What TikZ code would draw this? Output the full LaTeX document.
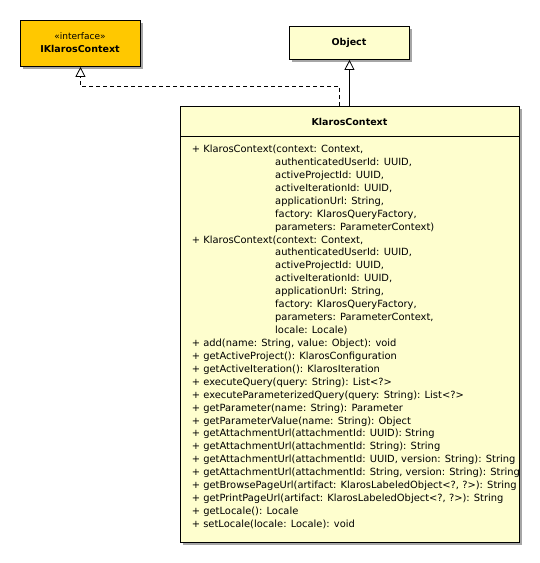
\documentclass[tikz,border=0pt]{standalone}
\usepackage{fontspec}
\setmainfont{DejaVu Sans}
\usetikzlibrary{shadows,arrows.meta}
\definecolor{classfill}{HTML}{FEFECE}
\definecolor{ifacefill}{HTML}{FFC800}
\newcommand\myind{\hspace*{83.3pt}}
\begin{document}
\begin{tikzpicture}[x=1pt,y=-1pt,
  umlbox/.style={draw=black, line width=0.9pt, fill=classfill, inner sep=0pt, anchor=north west,
    drop shadow={shadow xshift=3pt, shadow yshift=-3pt, opacity=0.35, fill=black}},
  titletext/.style={font=\fontsize{9.5}{11}\selectfont\bfseries},
  stereo/.style={font=\fontsize{9}{11}\selectfont},
  member/.style={font=\fontsize{9.9}{12}\selectfont, anchor=base west, inner sep=0pt},
  realize/.style={dash pattern=on 4pt off 3pt, line width=0.8pt, -{Triangle[open,length=10pt,width=10pt,fill=white]}},
  extend/.style={line width=0.8pt, -{Triangle[open,length=10pt,width=10pt,fill=white]}}]
\useasboundingbox (0,0) rectangle (539,563);
% interface
\node[umlbox, fill=ifacefill, minimum width=120pt, minimum height=46pt] (ik) at (20,20) {};
\node[stereo] (iks) at (80,36) {«interface»};
\node[titletext] (ikt) at (80,49) {IKlarosContext};
% Object
\node[umlbox, minimum width=120pt, minimum height=33pt] (obj) at (289,26) {};
\node[titletext] (objt) at (349,42.5) {Object};
% KlarosContext
\node[umlbox, minimum width=339pt, minimum height=436pt] (kc) at (180,106) {};
\node[titletext] (kct) at (349.5,122) {KlarosContext};
\coordinate (sepL) at (180,136);
\coordinate (sepR) at (519,136);
\draw[line width=0.9pt] (sepL) -- (sepR);
\foreach \t [count=\i] in {
{+ KlarosContext(context: Context,},
{\myind authenticatedUserId: UUID,},
{\myind activeProjectId: UUID,},
{\myind activeIterationId: UUID,},
{\myind applicationUrl: String,},
{\myind factory: KlarosQueryFactory,},
{\myind parameters: ParameterContext)},
{+ KlarosContext(context: Context,},
{\myind authenticatedUserId: UUID,},
{\myind activeProjectId: UUID,},
{\myind activeIterationId: UUID,},
{\myind applicationUrl: String,},
{\myind factory: KlarosQueryFactory,},
{\myind parameters: ParameterContext,},
{\myind locale: Locale)},
{+ add(name: String, value: Object): void},
{+ getActiveProject(): KlarosConfiguration},
{+ getActiveIteration(): KlarosIteration},
{+ executeQuery(query: String): List<?>},
{+ executeParameterizedQuery(query: String): List<?>},
{+ getParameter(name: String): Parameter},
{+ getParameterValue(name: String): Object},
{+ getAttachmentUrl(attachmentId: UUID): String},
{+ getAttachmentUrl(attachmentId: String): String},
{+ getAttachmentUrl(attachmentId: UUID, version: String): String},
{+ getAttachmentUrl(attachmentId: String, version: String): String},
{+ getBrowsePageUrl(artifact: KlarosLabeledObject<?, ?>): String},
{+ getPrintPageUrl(artifact: KlarosLabeledObject<?, ?>): String},
{+ getLocale(): Locale},
{+ setLocale(locale: Locale): void}} {
  \node[member] (m\i) at (191.7, {152.5 + (\i-1)*12.93}) {\t};
}
% connectors
\coordinate (kcA) at (339,106);
\coordinate (kcB) at (349.5,106);
\draw[realize] (kcA) -- ++(0,-20) -| (ik.south);
\draw[extend] (kcB) -- (obj.south);
\end{tikzpicture}
\end{document}
